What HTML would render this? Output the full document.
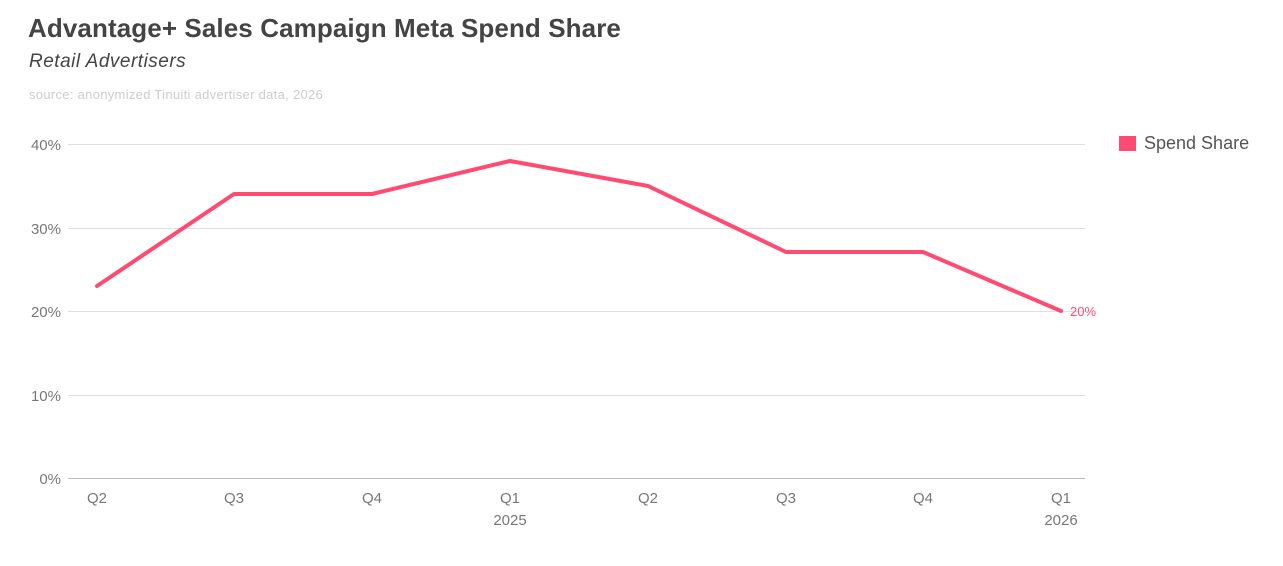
<!DOCTYPE html>
<html><head><meta charset="utf-8"><style>
body{margin:0;width:1283px;height:566px;background:#fff;font-family:"Liberation Sans",sans-serif;overflow:hidden;position:relative}
.t{position:absolute;left:28px;top:13px;font-size:26px;font-weight:bold;color:#444;letter-spacing:0.1px}
.s{position:absolute;left:29px;top:51px;font-size:19px;font-style:italic;color:#444;letter-spacing:0.5px}
.src{position:absolute;left:29px;top:87px;font-size:13px;color:#ccc;letter-spacing:0.3px}
</style></head><body>
<div class="t">Advantage+ Sales Campaign Meta Spend Share</div>
<div class="s">Retail Advertisers</div>
<div class="src">source: anonymized Tinuiti advertiser data, 2026</div>
<svg width="1283" height="566" style="position:absolute;left:0;top:0" font-family="Liberation Sans, sans-serif">
<g stroke="#e0e0e0" stroke-width="1">
<line x1="68" x2="1085" y1="144.5" y2="144.5"/>
<line x1="68" x2="1085" y1="228.5" y2="228.5"/>
<line x1="68" x2="1085" y1="311.5" y2="311.5"/>
<line x1="68" x2="1085" y1="395.5" y2="395.5"/>
</g>
<line x1="68" x2="1085" y1="478.5" y2="478.5" stroke="#bbb"/>
<g fill="#777" font-size="15" text-anchor="end">
<text x="61" y="150">40%</text><text x="61" y="234">30%</text><text x="61" y="317">20%</text><text x="61" y="401">10%</text><text x="61" y="484">0%</text>
</g>
<g fill="#777" font-size="15" text-anchor="middle">
<text x="97" y="503">Q2</text><text x="234" y="503">Q3</text><text x="372" y="503">Q4</text>
<text x="510" y="503">Q1</text><text x="510" y="525">2025</text>
<text x="648" y="503">Q2</text><text x="786" y="503">Q3</text><text x="923" y="503">Q4</text>
<text x="1061" y="503">Q1</text><text x="1061" y="525">2026</text>
</g>
<polyline fill="none" stroke="#ff4a72" stroke-width="4" stroke-linejoin="round" stroke-linecap="round"
points="97,286 234,194 372,194 510,161 648,186 786,252 923,252 1061,311"/>
<text x="1070" y="316" font-size="13" fill="#ff4a72">20%</text>
<rect x="1119" y="136" width="17" height="15" fill="#ff4a72"/>
<text x="1144" y="149" font-size="18" fill="#555">Spend Share</text>
</svg>
</body></html>
